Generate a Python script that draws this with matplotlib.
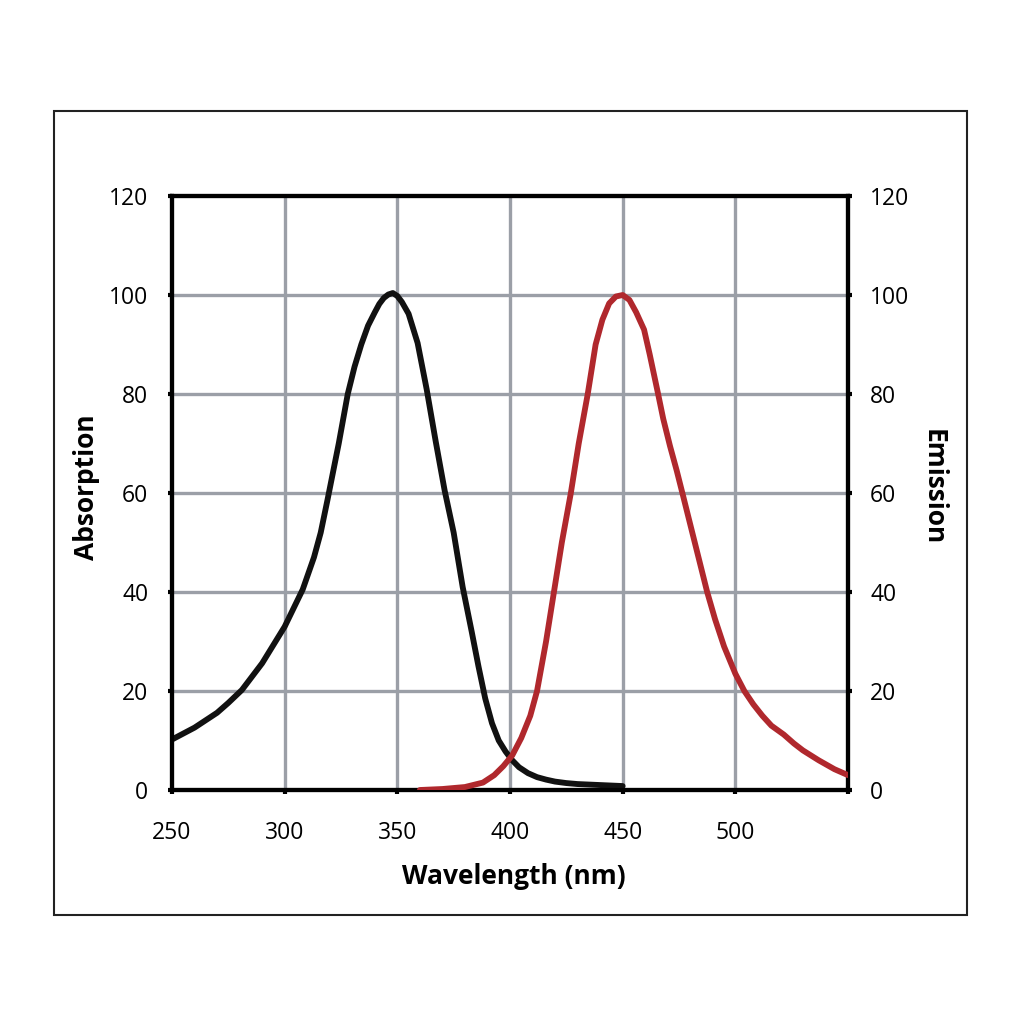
import matplotlib
matplotlib.use("Agg")
import matplotlib.pyplot as plt
from matplotlib.patches import Rectangle

plt.rcParams['font.family'] = ['Open Sans', 'DejaVu Sans']

# Absorption spectrum (black)
abs_wl = [250, 260, 270, 275, 281, 290, 300, 308, 313, 316, 319, 324, 328, 331, 334, 337,
          340, 342, 344, 346, 348, 350, 352, 355, 359, 363, 367, 371, 375, 379, 383, 386, 389, 392,
          395, 398, 401, 404, 408, 412, 416, 420, 425, 430, 440, 450]
abs_val = [10.2, 12.6, 15.6, 17.6, 20.2, 25.6, 33.0, 40.5, 47.0, 52.0, 58.6, 70.0, 80.0, 85.5, 90.0, 93.8,
           96.5, 98.2, 99.4, 100.1, 100.4, 99.8, 98.6, 96.2, 90.3, 81.0, 70.5, 60.5, 52.0, 41.0, 32.0, 25.0, 18.5, 13.5,
           10.0, 7.8, 6.0, 4.6, 3.4, 2.6, 2.1, 1.7, 1.4, 1.2, 1.0, 0.8]

# Emission spectrum (red)
em_wl = [360, 370, 380, 388, 393, 397, 401, 405, 409, 412, 416, 419.5, 423, 427, 430.5,
         434.5, 438, 441, 444, 447, 450, 453, 456, 459.5, 462, 465.5, 468, 471, 474, 476.5, 482,
         487.5, 491, 495, 500, 504, 508, 512, 516, 521.5, 526, 530, 537, 544, 550]
em_val = [0.0, 0.2, 0.6, 1.5, 3.0, 4.8, 7.0, 10.5, 15.0, 20.0, 30.0, 40.0, 50.0, 60.0, 70.0,
          80.0, 90.0, 95.0, 98.3, 99.7, 100.0, 99.0, 96.5, 93.0, 88.0, 80.5, 75.0, 69.5, 64.5, 60.0, 50.0,
          40.0, 34.5, 29.0, 23.5, 20.0, 17.3, 15.0, 13.0, 11.2, 9.4, 8.0, 6.0, 4.2, 3.0]

x_ticks = [250, 300, 350, 400, 450, 500, 550]
x_tick_labels = ['250', '300', '350', '400', '450', '500', '']
y_ticks = [0, 20, 40, 60, 80, 100, 120]

fig = plt.figure(figsize=(10.24, 10.24), dpi=100)
fig.patch.set_facecolor('white')

ax = fig.add_axes([172/1024, 1-790/1024, 676/1024, 594/1024])
ax2 = ax.twinx()

grid_color = '#9b9fa7'
ax.set_xlim(250, 550)
ax.set_ylim(0, 120)
ax2.set_ylim(0, 120)

for xv in x_ticks[1:-1]:
    ax.axvline(xv, color=grid_color, lw=2.4, zorder=1)
for yv in y_ticks[1:-1]:
    ax.axhline(yv, color=grid_color, lw=2.4, zorder=1)

ax.plot(abs_wl, abs_val, color='#111111', lw=4.2, zorder=3,
        solid_capstyle='round', solid_joinstyle='round')
ax2.plot(em_wl, em_val, color='#b0282d', lw=4.2, zorder=3,
         solid_capstyle='round', solid_joinstyle='round')

for a in (ax, ax2):
    for s in a.spines.values():
        s.set_linewidth(3.0)
        s.set_color('black')

ax.set_xticks(x_ticks)
ax.set_xticklabels(x_tick_labels)
ax.set_yticks(y_ticks)
ax2.set_yticks(y_ticks)
ax.tick_params(axis='x', direction='out', length=3, width=3, pad=19, labelsize=16.5)
ax.tick_params(axis='y', direction='out', length=3, width=3, pad=14, labelsize=16.5)
ax2.tick_params(axis='y', direction='out', length=3, width=3, pad=13, labelsize=16.5)

fig.text(514/1024, 1-876/1024, 'Wavelength (nm)', ha='center', va='center',
         fontsize=19, fontweight='bold')
fig.text(87/1024, 1-487/1024, 'Absorption', ha='center', va='center',
         rotation=90, fontsize=19, fontweight='bold')
fig.text(933/1024, 1-487/1024, 'Emission', ha='center', va='center',
         rotation=270, fontsize=19, fontweight='bold')

fig.add_artist(Rectangle((54/1024, 1-915/1024), 913/1024, 804/1024,
                         transform=fig.transFigure, fill=False,
                         edgecolor='#222222', lw=1.5))

fig.savefig('out.png', dpi=100, facecolor='white')
